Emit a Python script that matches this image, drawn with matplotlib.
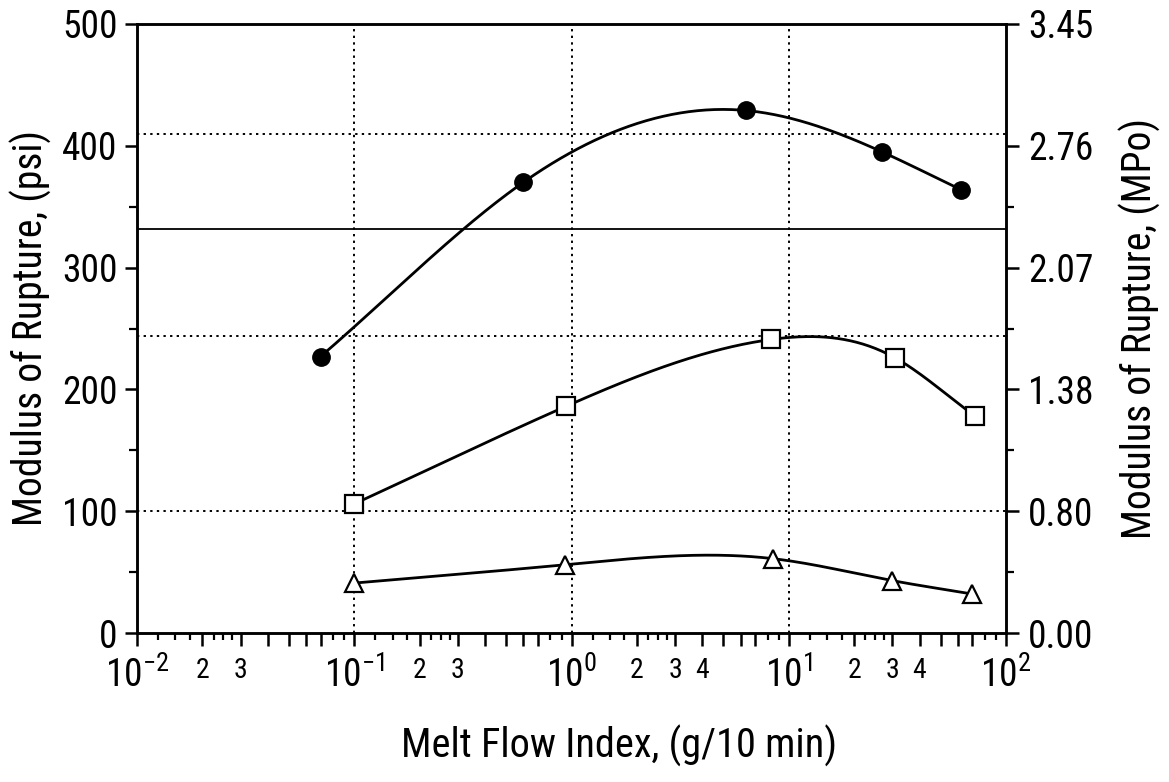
import numpy as np
import matplotlib
matplotlib.use('Agg')
import matplotlib.pyplot as plt
from matplotlib.ticker import FixedLocator, FixedFormatter, NullFormatter

plt.rcParams['font.family'] = ['Roboto Condensed', 'Liberation Sans', 'DejaVu Sans']
plt.rcParams['mathtext.fontset'] = 'custom'
plt.rcParams['mathtext.rm'] = 'Roboto Condensed'
plt.rcParams['mathtext.it'] = 'Roboto Condensed'

# ---- data ----
circle_x = [0.07, 0.60, 6.35, 26.9, 62.0]
circle_y = [227, 370, 429, 395, 364]
square_x = [0.10, 0.94, 8.3, 30.8, 72.0]
square_y = [106, 186, 241, 226, 178]
tri_x = [0.10, 0.93, 8.5, 30.0, 70.0]
tri_y = [41, 56, 61, 43, 32]

left_ticks = [0, 100, 200, 300, 400, 500]
left_labels = ['0', '100', '200', '300', '400', '500']
right_labels = ['0.00', '0.80', '1.38', '2.07', '2.76', '3.45']
minor_y = [50, 150, 250, 350]

decades = [1e-2, 1e-1, 1e0, 1e1, 1e2]
decade_labels = [r'$\mathregular{10^{-2}}$', r'$\mathregular{10^{-1}}$',
                 r'$\mathregular{10^{0}}$', r'$\mathregular{10^{1}}$',
                 r'$\mathregular{10^{2}}$']
long_mult = [2, 3, 4, 5, 6, 7]
short_mult = [1.25, 1.5, 1.75, 2.25, 2.5, 2.75, 8, 9]
digit_labelled = {1e-2: [2, 3], 1e-1: [2, 3], 1e0: [2, 3, 4], 1e1: [2, 3, 4]}

vgrid_x = [0.1, 1.0, 10.0]
hgrid_dotted = [100, 244, 410]
hline_solid = [332]

xlabel = 'Melt Flow Index, (g/10 min)'
ylabel_left = 'Modulus of Rupture, (psi)'
ylabel_right = 'Modulus of Rupture, (MPo)'


def clamped_spline(x, y, xs):
    """Cubic spline whose end slopes equal the end-segment secants."""
    x = np.asarray(x, float); y = np.asarray(y, float)
    n = len(x); h = np.diff(x)
    s = np.diff(y) / h
    A = np.zeros((n, n)); r = np.zeros(n)
    A[0, 0] = 2 * h[0]; A[0, 1] = h[0]; r[0] = 3 * (s[0] - s[0])
    A[-1, -2] = h[-1]; A[-1, -1] = 2 * h[-1]; r[-1] = 3 * (s[-1] - s[-1])
    for i in range(1, n - 1):
        A[i, i - 1] = h[i - 1]; A[i, i] = 2 * (h[i - 1] + h[i]); A[i, i + 1] = h[i]
        r[i] = 3 * (s[i] - s[i - 1])
    c = np.linalg.solve(A, r)
    b = s - h * (2 * c[:-1] + c[1:]) / 3
    d = (c[1:] - c[:-1]) / (3 * h)
    idx = np.clip(np.searchsorted(x, xs) - 1, 0, n - 2)
    dx = xs - x[idx]
    return y[idx] + b[idx] * dx + c[idx] * dx ** 2 + d[idx] * dx ** 3


fig = plt.figure(figsize=(11.69, 7.82), dpi=100)
ax = fig.add_axes([137 / 1169, 1 - 633 / 782, 869 / 1169, 609 / 782])
ax.set_xscale('log')
ax.set_xlim(1e-2, 1e2)
ax.set_ylim(0, 500)

lw_axis = 1.8
for s in ax.spines.values():
    s.set_linewidth(lw_axis)

# grid / reference lines
for xv in vgrid_x:
    ax.axvline(xv, color='black', lw=1.4, ls=(0, (1.2, 2.2)), zorder=1)
for yv in hgrid_dotted:
    ax.axhline(yv, color='black', lw=1.4, ls=(0, (1.2, 2.2)), zorder=1)
for yv in hline_solid:
    ax.axhline(yv, color='black', lw=1.3, zorder=1)

# series
series = [
    (circle_x, circle_y, dict(marker='o', ms=12.5, mfc='black', mec='black')),
    (square_x, square_y, dict(marker='s', ms=13, mfc='white', mec='black', mew=1.6)),
    (tri_x, tri_y, dict(marker='^', ms=13.5, mfc='white', mec='black', mew=1.6)),
]
for xs_, ys_, mk in series:
    lx = np.log10(xs_)
    fine = np.linspace(lx[0], lx[-1], 300)
    ax.plot(10 ** fine, clamped_spline(lx, ys_, fine), color='black', lw=2.0, zorder=2)
    ax.plot(xs_, ys_, ls='none', zorder=3, **mk)

# x ticks
major_pos = list(decades)
major_lab = list(decade_labels)
major_is_digit = [False] * len(decades)
for d in decades[:-1]:
    for m in long_mult:
        major_pos.append(d * m)
        major_lab.append(str(m) if m in digit_labelled[d] else '')
        major_is_digit.append(True)
order = np.argsort(major_pos)
major_pos = [major_pos[i] for i in order]
major_lab = [major_lab[i] for i in order]
major_is_digit = [major_is_digit[i] for i in order]
minor_pos = [d * m for d in decades[:-1] for m in short_mult]

ax.xaxis.set_major_locator(FixedLocator(major_pos))
ax.xaxis.set_major_formatter(FixedFormatter(major_lab))
ax.xaxis.set_minor_locator(FixedLocator(minor_pos))
ax.xaxis.set_minor_formatter(NullFormatter())
ax.tick_params(axis='x', which='major', direction='out', length=9, width=lw_axis,
               pad=8, labelsize=27)
ax.tick_params(axis='x', which='minor', direction='out', length=5, width=1.6)
for lab, isd in zip(ax.get_xticklabels(), major_is_digit):
    if isd:
        lab.set_fontsize(20)

# y ticks left
ax.yaxis.set_major_locator(FixedLocator(left_ticks))
ax.yaxis.set_major_formatter(FixedFormatter(left_labels))
ax.yaxis.set_minor_locator(FixedLocator(minor_y))
ax.yaxis.set_minor_formatter(NullFormatter())
ax.tick_params(axis='y', which='major', direction='out', length=9, width=lw_axis,
               pad=5, labelsize=27)
ax.tick_params(axis='y', which='minor', direction='out', length=6, width=1.6)

# right axis
ax2 = ax.twinx()
ax2.set_ylim(0, 500)
ax2.yaxis.set_major_locator(FixedLocator(left_ticks))
ax2.yaxis.set_major_formatter(FixedFormatter(right_labels))
ax2.yaxis.set_minor_locator(FixedLocator(minor_y))
ax2.yaxis.set_minor_formatter(NullFormatter())
ax2.tick_params(axis='y', which='major', direction='out', length=9, width=lw_axis,
                pad=7, labelsize=27)
ax2.tick_params(axis='y', which='minor', direction='out', length=6, width=1.6)
for s in ax2.spines.values():
    s.set_linewidth(lw_axis)

ax.set_xlabel(xlabel, fontsize=29)
ax.set_ylabel(ylabel_left, fontsize=28.5)
ax2.set_ylabel(ylabel_right, fontsize=28.5)
ax.xaxis.set_label_coords(0.555, -0.15)
ax.yaxis.set_label_coords(-0.098, 0.5)
ax2.yaxis.set_label_coords(1.13, 0.5)

fig.savefig('out.png', dpi=100)
